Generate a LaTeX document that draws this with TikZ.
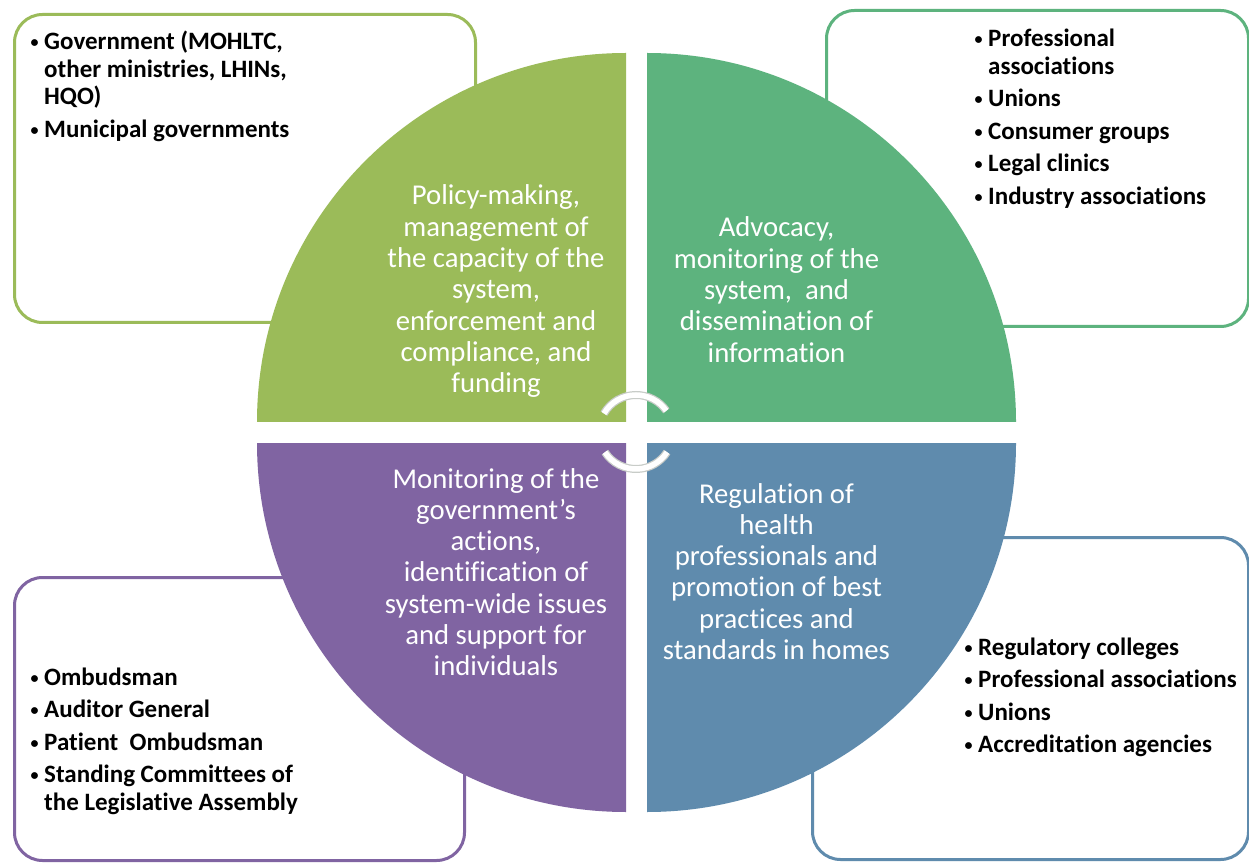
\documentclass[tikz,border=0pt]{standalone}
\usepackage{fontspec}
\setmainfont{Carlito}[Ligatures=NoCommon]
\definecolor{qgreen}{HTML}{9BBB59}
\definecolor{qteal}{HTML}{5DB37E}
\definecolor{qpurple}{HTML}{8064A2}
\definecolor{qblue}{HTML}{5F8BAD}
\definecolor{arcgray}{HTML}{C8CCC8}
\newcommand{\bul}{\makebox[14pt][l]{\hspace{0.5pt}\raisebox{2pt}{\fontsize{16}{16}\selectfont •}}}
\begin{document}
\begin{tikzpicture}[x=1pt,y=1pt,
  box/.style={draw, line width=3pt, rounded corners=28pt, anchor=south west, inner sep=0},
  qtext/.style={anchor=base, inner sep=0, text=white, font=\fontsize{28.7}{31.3}\selectfont},
  ltext/.style={anchor=base west, inner sep=0, text=black, font=\bfseries\fontsize{25}{27.5}\selectfont}]
\useasboundingbox (0,0) rectangle (1249,863);
\fill[white] (0,0) rectangle (1249,863);
% boxes
\node[box, draw=qgreen, minimum width=461pt, minimum height=308pt] (tlbox) at (13,539) {};
\node[box, draw=qteal, minimum width=422pt, minimum height=316pt] (trbox) at (825,535) {};
\node[box, draw=qpurple, minimum width=450pt, minimum height=283pt] (blbox) at (13,1) {};
\node[box, draw=qblue, minimum width=436pt, minimum height=322pt] (brbox) at (811,2) {};
% quadrants
\fill[qgreen] (626,441) -- (626,810) arc[start angle=90, end angle=180, radius=369] -- cycle;
\fill[qteal] (647,441) -- (1016,441) arc[start angle=0, end angle=90, radius=369] -- cycle;
\fill[qpurple] (626,420) -- (257,420) arc[start angle=180, end angle=270, radius=369] -- cycle;
\fill[qblue] (647,420) -- (647,51) arc[start angle=270, end angle=360, radius=369] -- cycle;
% centre arcs
\coordinate (c) at (636,431);
\draw[arcgray, line width=8pt] ([shift={(150:37)}]c) arc[start angle=150, end angle=35, radius=37];
\draw[white, line width=5.5pt] ([shift={(150:37)}]c) arc[start angle=150, end angle=35, radius=37];
\draw[arcgray, line width=8pt] ([shift={(213:37)}]c) arc[start angle=213, end angle=327, radius=37];
\draw[white, line width=5.5pt] ([shift={(213:37)}]c) arc[start angle=213, end angle=327, radius=37];
% quadrant texts
\node[qtext] (tltext) at (496,658) {\begin{tabular}[t]{@{}c@{}}Policy-making,\\management of\\the capacity of the\\system,\\enforcement and\\compliance, and\\funding\end{tabular}};
\node[qtext] (trtext) at (776.5,626) {\begin{tabular}[t]{@{}c@{}}Advocacy,\\monitoring of the\\system,\ \ and\\dissemination of\\information\end{tabular}};
\node[qtext] (bltext) at (496,375) {\begin{tabular}[t]{@{}c@{}}Monitoring of the\\government’s\\actions,\\identification of\\system-wide issues\\and support for\\individuals\end{tabular}};
\node[qtext] (brtext) at (776.5,360) {\begin{tabular}[t]{@{}c@{}}Regulation of\\health\\professionals and\\promotion of best\\practices and\\standards in homes\end{tabular}};
% lists
\node[ltext] (tllist) at (30,813) {\begin{tabular}[t]{@{}l@{}l@{}}\bul & Government (MOHLTC,\\ & other ministries, LHINs,\\ & HQO)\\[5pt] \bul & Municipal governments\end{tabular}};
\node[ltext] (trlist) at (974,816) {\begin{tabular}[t]{@{}l@{}l@{}}\bul & Professional\\ & associations\\[5pt] \bul & Unions\\[5pt] \bul & Consumer groups\\[5pt] \bul & Legal clinics\\[5pt] \bul & Industry associations\end{tabular}};
\node[ltext] (bllist) at (30,178) {\begin{tabular}[t]{@{}l@{}l@{}}\bul & Ombudsman\\[5pt] \bul & Auditor General\\[5pt] \bul & Patient\ \ Ombudsman\\[5pt] \bul & Standing Committees of\\ & the Legislative Assembly\end{tabular}};
\node[ltext] (brlist) at (964,208) {\begin{tabular}[t]{@{}l@{}l@{}}\bul & Regulatory colleges\\[5pt] \bul & Professional associations\\[5pt] \bul & Unions\\[5pt] \bul & Accreditation agencies\end{tabular}};
\end{tikzpicture}
\end{document}
